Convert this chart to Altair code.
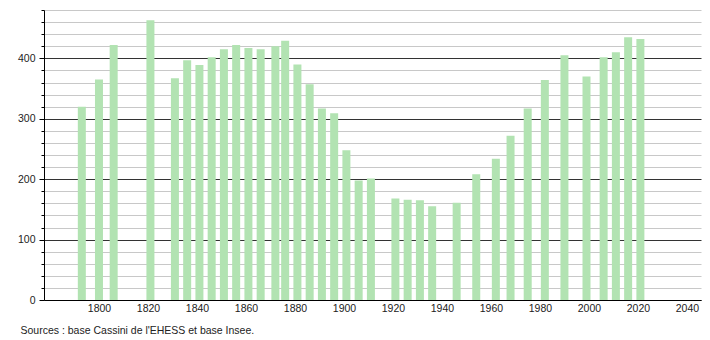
import altair as alt
import pandas as pd

years = [1793, 1800, 1806, 1821, 1831, 1836, 1841, 1846, 1851, 1856, 1861, 1866,
         1872, 1876, 1881, 1886, 1891, 1896, 1901, 1906, 1911, 1921, 1926, 1931,
         1936, 1946, 1954, 1962, 1968, 1975, 1982, 1990, 1999, 2006, 2011, 2016, 2021]
population = [320, 365, 422, 463, 367, 397, 389, 402, 415, 422, 417, 415,
              420, 429, 390, 357, 317, 309, 248, 198, 201, 168, 166, 165,
              155, 161, 208, 234, 272, 317, 364, 405, 370, 402, 410, 435, 432]
x_ticks = [1800, 1820, 1840, 1860, 1880, 1900, 1920, 1940, 1960, 1980, 2000, 2020, 2040]
y_ticks = list(range(0, 481, 20))
source = "Sources : base Cassini de l'EHESS et base Insee."

df = pd.DataFrame({"year": years, "pop": population})

font = "Liberation Sans"

chart = alt.Chart(df).mark_bar(color="#b2e3b2", size=8).encode(
    x=alt.X("year:Q",
            scale=alt.Scale(domain=[1779.6, 2043.7], nice=False, zero=False),
            axis=alt.Axis(values=x_ticks, title=None, format="d", grid=False,
                          ticks=False, labelPadding=3, labelFontSize=10.5,
                          labelColor="#222", labelFont=font,
                          domainColor="#000", labelFlush=False)),
    y=alt.Y("pop:Q",
            scale=alt.Scale(domain=[0, 480], nice=False),
            axis=alt.Axis(values=y_ticks, title=None,
                          labelExpr="datum.value % 100 === 0 ? datum.label : ''",
                          gridColor={"condition": {"test": "datum.value % 100 === 0", "value": "#333333"}, "value": "#c8c8c8"},
                          tickSize={"condition": {"test": "datum.value % 100 === 0", "value": 5}, "value": 3},
                          tickColor="#000", domainColor="#000",
                          labelPadding=4, labelFontSize=10.5, labelColor="#222",
                          labelFont=font)),
).properties(
    width=657, height=290,
    autosize=alt.AutoSizeParams(type="none"),
    padding={"left": 44, "top": 10, "right": 9, "bottom": 40},
    title=alt.TitleParams(source, orient="bottom", anchor="start", frame="group",
                          fontSize=10.5, fontWeight="normal", font=font,
                          color="#222", dx=-23.5, offset=12),
).configure_view(stroke=None)

chart.save("out.html", embed_options={"renderer": "svg", "actions": False})
